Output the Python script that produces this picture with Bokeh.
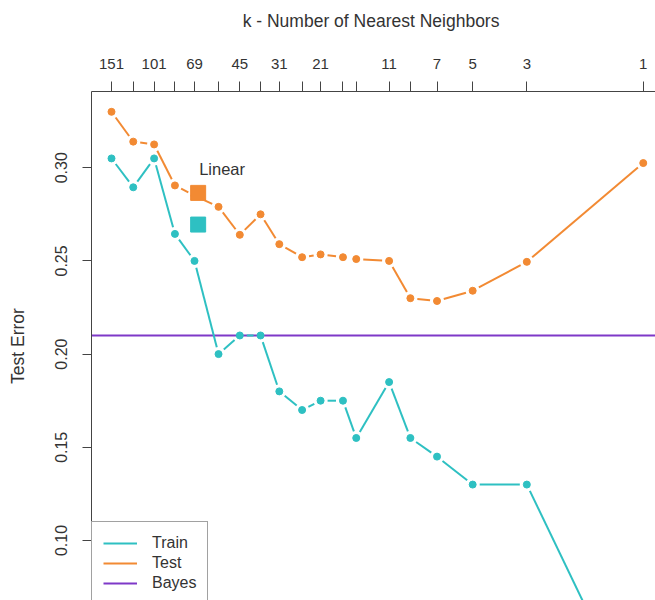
import numpy as np
from bokeh.plotting import figure
from bokeh.models import (Range1d, FixedTicker, CustomJSTickFormatter, Legend,
                          LegendItem, PrintfTickFormatter)
from bokeh.core.properties import value
from bokeh.embed import file_html
from bokeh.resources import INLINE

# ---------------- data ----------------
N = 200
k_values = [151, 123, 101, 83, 69, 55, 45, 37, 31, 25, 21, 17, 15, 11, 9, 7, 5, 3, 1]
k_labels = [151, 101, 69, 45, 31, 21, 11, 7, 5, 3, 1]
test_error = [0.330, 0.314, 0.3125, 0.2905, 0.285, 0.279, 0.264, 0.275, 0.259, 0.252,
              0.2535, 0.252, 0.251, 0.250, 0.230, 0.2285, 0.234, 0.2495, 0.3025]
train_error = [0.305, 0.2895, 0.305, 0.2645, 0.250, 0.200, 0.210, 0.210, 0.180, 0.170,
               0.175, 0.175, 0.155, 0.185, 0.155, 0.145, 0.130, 0.130, 0.0]
linear_df = 3
linear_test = 0.2865
linear_train = 0.2695
linear_label_y = 0.2995
bayes_error = 0.21
y_ticks = [0.10, 0.15, 0.20, 0.25, 0.30]

# ---------------- layout ----------------
FIG_W, FIG_H = 655, 600
LEFT, TOP = 91, 91
FRAME_W, FRAME_H = FIG_W - LEFT, FIG_H - TOP
XA, XB = 1.0967, 224.5
YA, YB = 0.0678, 0.3409

TEAL = "#2EC0C2"
ORANGE = "#F28A33"
PURPLE = "#7E38C8"
AXIS = "#444444"
TXT = "#333333"
FONT = "Liberation Sans"

dof = [N / k for k in k_values]


def to_px(x, y):
    px = (np.log(x) - np.log(XA)) / (np.log(XB) - np.log(XA)) * FRAME_W
    py = (np.asarray(y) - YA) / (YB - YA) * FRAME_H
    return px, py


def from_px(px, py):
    x = np.exp(np.log(XA) + px / FRAME_W * (np.log(XB) - np.log(XA)))
    y = YA + py / FRAME_H * (YB - YA)
    return x, y


def gapped(xs, ys, gap=7.0):
    px, py = to_px(np.asarray(xs, float), np.asarray(ys, float))
    x0, y0, x1, y1 = [], [], [], []
    for i in range(len(px) - 1):
        dx, dy = px[i + 1] - px[i], py[i + 1] - py[i]
        d = np.hypot(dx, dy)
        if d <= 2 * gap:
            continue
        ux, uy = dx / d, dy / d
        a = from_px(px[i] + ux * gap, py[i] + uy * gap)
        b = from_px(px[i + 1] - ux * gap, py[i + 1] - uy * gap)
        x0.append(a[0]); y0.append(a[1]); x1.append(b[0]); y1.append(b[1])
    return x0, y0, x1, y1


p = figure(width=FIG_W, height=FIG_H, x_axis_type="log", x_axis_location="above",
           x_range=Range1d(XA, XB), y_range=Range1d(YA, YB),
           output_backend="svg", toolbar_location=None,
           min_border_left=LEFT, min_border_top=TOP, min_border_right=0, min_border_bottom=0)
p.outline_line_color = None
p.grid.visible = False
p.background_fill_color = "white"
p.border_fill_color = "white"

# top axis (k)
xa = p.xaxis[0]
xa.ticker = FixedTicker(ticks=dof, minor_ticks=[])
xa.formatter = CustomJSTickFormatter(args=dict(n=N, labels=k_labels), code="""
const k = Math.round(n / tick);
return labels.includes(k) ? String(k) : '';
""")
xa.axis_label = "k -  Number of Nearest Neighbors"
xa.axis_label_text_font = FONT
xa.axis_label_text_font_size = "17.5px"
xa.axis_label_text_font_style = "normal"
xa.axis_label_text_color = TXT
xa.axis_label_standoff = 25
xa.major_label_text_font = FONT
xa.major_label_text_font_size = "15px"
xa.major_label_text_color = TXT
xa.major_label_standoff = 13
xa.major_tick_out = 10
xa.major_tick_in = 0
xa.minor_tick_line_color = None
xa.axis_line_color = AXIS
xa.major_tick_line_color = AXIS

# left axis
ya = p.yaxis[0]
ya.ticker = FixedTicker(ticks=y_ticks, minor_ticks=[])
ya.formatter = PrintfTickFormatter(format="%.2f")
ya.major_label_orientation = "vertical"
ya.axis_label = "Test Error"
ya.axis_label_text_font = FONT
ya.axis_label_text_font_size = "17.5px"
ya.axis_label_text_font_style = "normal"
ya.axis_label_text_color = TXT
ya.axis_label_standoff = 25
ya.major_label_text_font = FONT
ya.major_label_text_font_size = "16px"
ya.major_label_text_color = TXT
ya.major_label_standoff = 15
ya.major_tick_out = 9
ya.major_tick_in = 0
ya.minor_tick_line_color = None
ya.axis_line_color = AXIS
ya.major_tick_line_color = AXIS

# Bayes line across the whole panel
bayes_r = p.line(x=[XA, XB], y=[bayes_error, bayes_error], line_color=PURPLE, line_width=2)

# Train / Test lines (type "b": segments with gaps at points)
tx0, ty0, tx1, ty1 = gapped(dof, train_error)
train_r = p.segment(x0=tx0, y0=ty0, x1=tx1, y1=ty1, line_color=TEAL, line_width=2)
sx0, sy0, sx1, sy1 = gapped(dof, test_error)
test_r = p.segment(x0=sx0, y0=sy0, x1=sx1, y1=sy1, line_color=ORANGE, line_width=2)

p.scatter(x=dof, y=train_error, size=7, color=TEAL)
p.scatter(x=dof, y=test_error, size=7, color=ORANGE)

# Linear model
p.scatter(x=[linear_df], y=[linear_test], marker="square", size=15, color=ORANGE)
p.scatter(x=[linear_df], y=[linear_train], marker="square", size=15, color=TEAL)
p.text(x=[linear_df], y=[linear_label_y], text=["Linear"], x_offset=1,
       text_align="left", text_baseline="middle", text_font=value(FONT),
       text_font_size="16.5px", text_color=TXT)

legend = Legend(items=[LegendItem(label="Train", renderers=[train_r]),
                       LegendItem(label="Test", renderers=[test_r]),
                       LegendItem(label="Bayes", renderers=[bayes_r])],
                location=(0, -5), orientation="vertical")
legend.border_line_color = AXIS
legend.border_line_width = 1
legend.padding = 11
legend.spacing = 0
legend.margin = 0
legend.glyph_width = 34
legend.glyph_height = 20
legend.label_height = 20
legend.label_standoff = 15
legend.label_text_font = FONT
legend.label_text_font_size = "16px"
legend.label_text_color = TXT
legend.background_fill_alpha = 1.0
p.add_layout(legend)

open("out.html", "w").write(file_html(p, INLINE))
